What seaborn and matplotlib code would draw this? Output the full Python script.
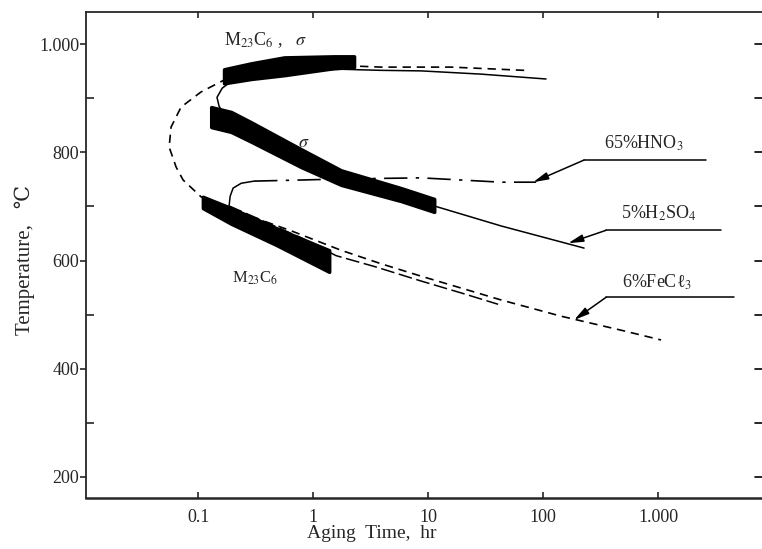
import numpy as np
import matplotlib
matplotlib.use("Agg")
import matplotlib.pyplot as plt
import seaborn as sns

# tick values and labels
x_ticks = [0.1, 1, 10, 100, 1000]
x_tick_labels = ["0.1", "1", "10", "100", "1.000"]
y_ticks = [200, 400, 600, 800, 1000]
y_tick_labels = ["200", "400", "600", "800", "1.000"]
y_minor = [300, 500, 700, 900]

# 6%FeCl3 curve (dashed C-curve)
fecl3_time = [68.4, 15.9, 3.9, 2.27, 0.644, 0.289, 0.168, 0.106, 0.0711, 0.0582,
              0.0560, 0.0644, 0.0741, 0.106, 0.143, 0.223, 0.644, 1.75, 3.9, 8.7,
              19.4, 43.1, 143, 477, 1060]
fecl3_temp = [952, 958, 958, 960, 956, 949, 934, 912, 884, 847,
              810, 773, 749, 718, 705, 690, 655, 619, 594, 571,
              549, 527, 497, 471, 453]

# 5%H2SO4 curve (solid)
h2so4_time = [106, 28.9, 8.7, 3.9, 1.75, 0.644, 0.289, 0.2015, 0.162, 0.146,
              0.152, 0.175, 0.289, 0.787, 1.75, 5.83, 11.3, 43.1, 227]
h2so4_temp = [936, 945, 951, 952, 954, 951, 945, 934, 919, 902,
              886, 864, 836, 793, 756, 723, 701, 664, 623]

# 65%HNO3 curve (dash-dot upper branch, lower branch)
hno3_time = [0.186, 0.190, 0.2015, 0.237, 0.307, 0.787, 1.75, 8.7, 19.4, 43.1, 86.9]
hno3_temp = [701, 719, 734, 743, 747, 749, 751, 753, 749, 745, 745]
hno3_low_time = [0.186, 0.353, 0.787, 1.585, 3.53, 8.7, 19.4, 40.6]
hno3_low_temp = [701, 675, 642, 609, 588, 562, 540, 519]

# precipitation bands
band_top_time = [0.168, 0.289, 0.560, 1.52, 2.27]
band_top_hi = [954, 965, 976, 978, 978]
band_top_lo = [928, 936, 943, 956, 958]

band_sig_time = [0.130, 0.194, 0.289, 0.787, 1.75, 5.83, 11.3]
band_sig_hi = [884, 875, 856, 806, 767, 734, 714]
band_sig_lo = [847, 838, 820, 773, 740, 710, 690]

band_low_time = [0.110, 0.194, 0.477, 1.38]
band_low_hi = [718, 697, 660, 619]
band_low_lo = [697, 668, 629, 579]

sns.set_style("ticks")
plt.rcParams['font.family'] = ['Liberation Serif', 'DejaVu Serif', 'DejaVu Sans']
plt.rcParams['mathtext.fontset'] = 'stix'

fig = plt.figure(figsize=(7.62, 5.49), dpi=100)
ax = fig.add_axes([86 / 762, 1 - 497.7 / 549, 1 - 86 / 762, (497.7 - 12) / 549])
ax.set_xscale("log")

sns.lineplot(x=fecl3_time, y=fecl3_temp, sort=False, estimator=None, ax=ax,
             color="black", lw=1.2, linestyle=(0, (5, 3.5)))
sns.lineplot(x=h2so4_time, y=h2so4_temp, sort=False, estimator=None, ax=ax,
             color="black", lw=1.1)
sns.lineplot(x=hno3_time[:5], y=hno3_temp[:5], sort=False, estimator=None, ax=ax,
             color="black", lw=1.1)
sns.lineplot(x=hno3_time[4:], y=hno3_temp[4:], sort=False, estimator=None, ax=ax,
             color="black", lw=1.2, linestyle=(0, (14, 5, 2, 5)))
sns.lineplot(x=hno3_low_time, y=hno3_low_temp, sort=False, estimator=None, ax=ax,
             color="black", lw=1.1, linestyle=(0, (9, 3)))

for t, hi, lo in [(band_top_time, band_top_hi, band_top_lo),
                  (band_sig_time, band_sig_hi, band_sig_lo),
                  (band_low_time, band_low_hi, band_low_lo)]:
    ax.fill_between(t, lo, hi, color="black", lw=2.5, edgecolor="black",
                    joinstyle="round")

ax.set_xlim(0.0106, 8000)
ax.set_ylim(161, 1060)

ax.set_xticks(x_ticks)
ax.set_xticklabels(x_tick_labels, fontsize=13)
ax.xaxis.set_minor_locator(matplotlib.ticker.NullLocator())
ax.set_yticks(y_ticks)
ax.set_yticklabels(y_tick_labels, fontsize=13)
ax.yaxis.set_minor_locator(matplotlib.ticker.FixedLocator(y_minor))

ax.tick_params(axis="x", which="major", direction="in", length=4, width=1.2,
               top=True, bottom=True, pad=8)
ax.tick_params(axis="y", which="major", direction="out", length=4, width=1.2,
               left=True, right=False, pad=1)
ax.tick_params(axis="y", which="minor", direction="in", length=6, width=1.2,
               left=True, right=False)
ax.spines["right"].set_visible(False)
for s in ["left", "top"]:
    ax.spines[s].set_linewidth(1.3)
ax.spines["bottom"].set_linewidth(1.8)

# right-hand ticks (spine lost in the original)
for v in y_ticks + y_minor:
    ax.plot([0.99, 1.0], [v, v], transform=ax.get_yaxis_transform(),
            color="black", lw=1.2, clip_on=False)

ax.set_xlabel("Aging  Time,  hr", fontsize=14)
ax.set_ylabel("Temperature,   ℃", fontsize=15)
ax.xaxis.set_label_coords((372 - 86) / 676, -0.056)
ax.yaxis.set_label_coords(-0.076, 0.489)

# region labels
ax.text(0.168, 1008, r"M$_{23}$C$_6$ ,   $\sigma$", fontsize=13, ha="left", va="center")
ax.text(0.835, 819, r"$\sigma$", fontsize=13, ha="center", va="center")
ax.text(0.313, 568, r"M$_{23}$C$_6$", fontsize=12, ha="center", va="center")

# leader labels
leaders = [
    ("65%HNO$_3$", 755, 817, 227, 2613, 786, 81.9, 745),
    ("5%H$_2$SO$_4$", 1020, 688, 353, 3532, 656, 165, 632),
    ("6%FeCℓ$_3$", 980, 560, 353, 4580, 532, 186, 490),
]
for label, tx, ty, x0, x1, yl, xa, ya in leaders:
    ax.text(tx, ty, label, fontsize=13, ha="center", va="center")
    ax.plot([x0, x1], [yl, yl], color="black", lw=1.1)
    ax.annotate("", xy=(xa, ya), xytext=(x0, yl),
                arrowprops=dict(arrowstyle="-|>,head_length=0.9,head_width=0.22",
                                color="black", lw=1.1, shrinkA=0, shrinkB=0))

fig.savefig("out.png", dpi=100)
